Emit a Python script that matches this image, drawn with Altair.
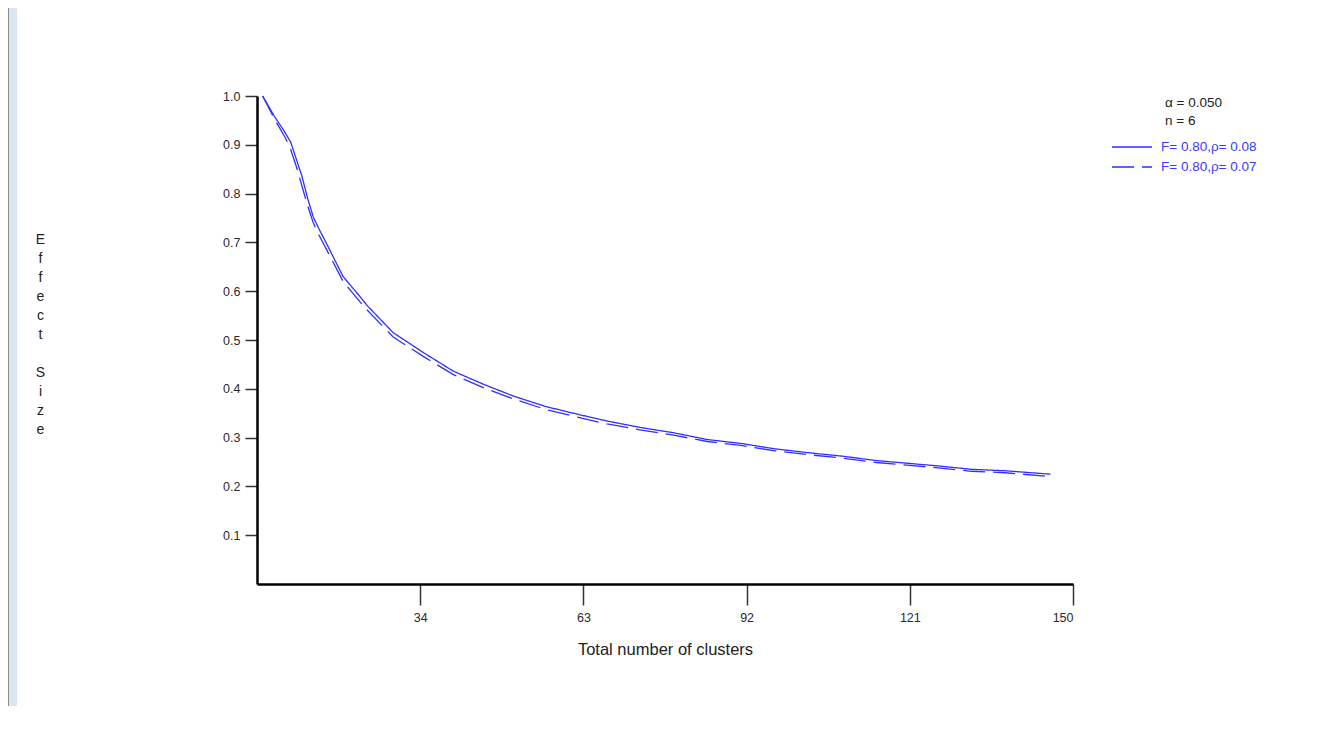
import altair as alt
import pandas as pd

# ---- data ----
clusters = [6, 8, 10, 11, 12, 13, 14, 15, 16, 17.6, 20.3, 23.3, 24.7, 29.2, 34.6, 39.9,
            45.3, 50.6, 56.2, 61.9, 67.2, 73, 79, 85, 91, 97, 103, 109, 115, 121,
            126, 132, 138, 146]
effect_rho08 = [1.0, 0.96, 0.925, 0.905, 0.87, 0.835, 0.79, 0.752, 0.728, 0.692, 0.63,
                0.589, 0.569, 0.515, 0.474, 0.436, 0.409, 0.385, 0.364, 0.348, 0.334,
                0.321, 0.310, 0.296, 0.288, 0.277, 0.269, 0.262, 0.253, 0.247, 0.242,
                0.235, 0.232, 0.225]
effect_rho07 = [1.0, 0.955, 0.915, 0.89, 0.855, 0.815, 0.775, 0.74, 0.715, 0.68, 0.62,
                0.578, 0.56, 0.506, 0.466, 0.429, 0.402, 0.379, 0.358, 0.342, 0.328,
                0.316, 0.305, 0.292, 0.284, 0.273, 0.265, 0.258, 0.249, 0.243, 0.238,
                0.231, 0.228, 0.220]
series_names = ["F= 0.80,\u03c1= 0.08", "F= 0.80,\u03c1= 0.07"]
x_ticks = [34, 63, 92, 121, 150]
y_ticks = [0.1, 0.2, 0.3, 0.4, 0.5, 0.6, 0.7, 0.8, 0.9, 1.0]
notes = ["\u03b1 = 0.050", "n = 6"]
y_title = ["E", "f", "f", "e", "c", "t", "\u200b", "S", "i", "z", "e"]

rows = []
for name, vals in zip(series_names, [effect_rho08, effect_rho07]):
    for xv, yv in zip(clusters, vals):
        rows.append({"clusters": xv, "effect": yv, "series": name})
df = pd.DataFrame(rows)

FONT = "Liberation Sans"
BLUE = "#2f2fff"
W, H = 816, 488
PAD = {"left": 249, "top": 88, "right": 238, "bottom": 122}

legend_opts = dict(title=None, orient="none", legendX=854, legendY=43,
                   symbolType="stroke", symbolSize=1600,
                   symbolStrokeWidth=1.3, clipHeight=16,
                   rowPadding=4, labelOffset=8, labelFontSize=13.5,
                   labelColor="#3a3aff", labelFont=FONT, padding=0)

lines = alt.Chart(df).mark_line(strokeWidth=1.3, clip=False).encode(
    x=alt.X("clusters:Q",
            scale=alt.Scale(domain=[5, 150], nice=False, zero=False),
            axis=alt.Axis(values=x_ticks, title="Total number of clusters",
                          tickSize=21, labelPadding=6, titlePadding=18,
                          titleFontSize=16.5)),
    y=alt.Y("effect:Q",
            scale=alt.Scale(domain=[0, 1], nice=False, zero=False),
            axis=alt.Axis(values=y_ticks, format=".1f", tickSize=12, labelPadding=5,
                          title=y_title,
                          titleAngle=0, titleX=-217, titleY=136,
                          titleAlign="center", titleBaseline="top",
                          titleLineHeight=19, titleFontSize=14)),
    color=alt.Color("series:N",
                    scale=alt.Scale(domain=series_names, range=[BLUE, BLUE]),
                    legend=alt.Legend(**legend_opts)),
    strokeDash=alt.StrokeDash("series:N",
                              scale=alt.Scale(domain=series_names, range=[[1, 0], [22, 8]]),
                              legend=alt.Legend(**legend_opts)),
)

one = pd.DataFrame({"a": [0]})
frame_blue = alt.Chart(one).mark_rect(color="#dbe6f2").encode(
    x=alt.value(-248), x2=alt.value(-240), y=alt.value(-88), y2=alt.value(H + PAD["bottom"]))
frame_gray = alt.Chart(one).mark_rect(color="#8c8c8c").encode(
    x=alt.value(-249), x2=alt.value(-248), y=alt.value(-88), y2=alt.value(H + PAD["bottom"]))

note1 = alt.Chart(one).mark_text(text=notes[0], align="left", baseline="middle",
                                 font=FONT, fontSize=13.5, color="#222").encode(
    x=alt.value(908), y=alt.value(7))
note2 = alt.Chart(one).mark_text(text=notes[1], align="left", baseline="middle",
                                 font=FONT, fontSize=13.5, color="#222").encode(
    x=alt.value(908), y=alt.value(25))

chart = alt.layer(frame_gray, frame_blue, lines, note1, note2).properties(
    width=W, height=H, padding=PAD,
    autosize=alt.AutoSizeParams(type="none"),
    background="white",
).configure_view(stroke=None).configure_axis(
    grid=False, domainColor="#000", domainWidth=2.5, tickColor="#333", tickWidth=1.5,
    labelFont=FONT, labelFontSize=12.5, labelColor="#2a2a2a",
    titleFont=FONT, titleFontWeight="normal", titleColor="#222",
)

chart.save("out.html", embed_options={"renderer": "svg", "actions": False})
